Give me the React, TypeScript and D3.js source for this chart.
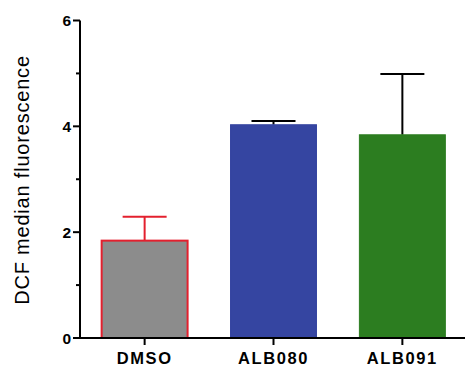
import React from "react";
import * as d3 from "d3";

// data
const groups = ["DMSO", "ALB080", "ALB091"];
const means = [1.84, 4.03, 3.84];
const errs = [0.45, 0.07, 1.15];
const fills = ["#8c8c8c", "#3545a1", "#2c7d20"];
const edges = ["#e3202e", "#3545a1", "#2c7d20"];
const errColors = ["#e3202e", "#000000", "#000000"];
const majorTicks = [0, 2, 4, 6];
const minorTicks = [1, 3, 5];

const W = 465;
const H = 367;

const App = () => {
  const x0 = 80;
  const y = d3.scaleLinear().domain([0, 6]).range([338, 20.5]);
  const x = d3
    .scaleBand<string>()
    .domain(groups)
    .range([x0, 467])
    .paddingInner(0.333)
    .paddingOuter(0.168);
  const font = "Arial, 'Liberation Sans', sans-serif";

  return (
    <svg
      width={W}
      height={H}
      style={{ position: "absolute", left: 0, top: 0 }}
      fontFamily={font}
    >
      <rect width={W} height={H} fill="#fff" />
      {groups.map((g, i) => {
        const bx = x(g)!;
        const bw = x.bandwidth();
        const cx = bx + bw / 2;
        const top = y(means[i]);
        const hi = y(means[i] + errs[i]);
        return (
          <g key={g}>
            <line x1={cx} x2={cx} y1={top} y2={hi} stroke={errColors[i]} strokeWidth={2} />
            <line x1={cx - 22} x2={cx + 22} y1={hi} y2={hi} stroke={errColors[i]} strokeWidth={2} />
            <rect
              x={bx}
              y={top}
              width={bw}
              height={y(0) - top}
              fill={fills[i]}
              stroke={edges[i]}
              strokeWidth={i === 0 ? 2 : 1}
            />
          </g>
        );
      })}
      {/* y axis */}
      <line x1={x0} x2={x0} y1={y(6)} y2={y(0) + 1} stroke="#000" strokeWidth={2} />
      {majorTicks.map((t) => (
        <g key={t}>
          <line x1={x0 - 7} x2={x0} y1={y(t)} y2={y(t)} stroke="#000" strokeWidth={2} />
          <text
            x={x0 - 9}
            y={y(t)}
            dy="0.36em"
            textAnchor="end"
            fontSize={15.5}
            fontWeight="bold"
          >
            {t}
          </text>
        </g>
      ))}
      {minorTicks.map((t) => (
        <line key={t} x1={x0 - 4} x2={x0} y1={y(t)} y2={y(t)} stroke="#000" strokeWidth={2} />
      ))}
      {/* x axis */}
      <line x1={x0 - 1} x2={W} y1={y(0)} y2={y(0)} stroke="#000" strokeWidth={2} />
      {groups.map((g) => {
        const cx = x(g)! + x.bandwidth() / 2;
        return (
          <g key={g}>
            <line x1={cx} x2={cx} y1={y(0)} y2={y(0) + 7} stroke="#000" strokeWidth={2} />
            <text
              x={cx}
              y={364}
              textAnchor="middle"
              fontSize={16.5}
              fontWeight="bold"
              letterSpacing={1.6}
            >
              {g}
            </text>
          </g>
        );
      })}
      <text
        transform={`translate(29,180) rotate(-90)`}
        textAnchor="middle"
        fontSize={20}
        letterSpacing={0.8}
      >
        DCF median fluorescence
      </text>
    </svg>
  );
};

export default App;
